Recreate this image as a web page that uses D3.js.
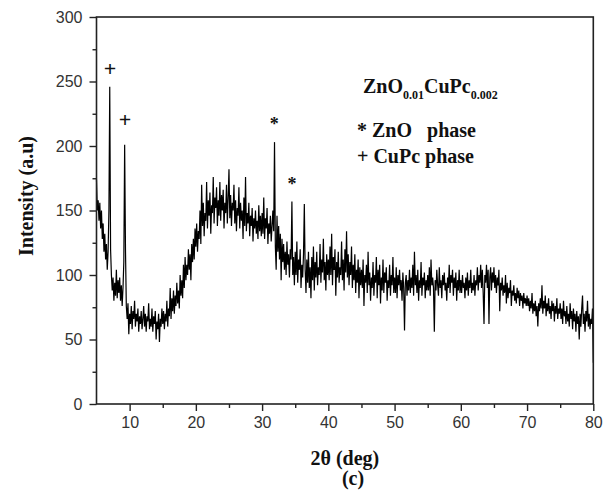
<!DOCTYPE html>
<html>
<head>
<meta charset="utf-8">
<script src="https://cdn.jsdelivr.net/npm/d3@7"></script>
<style>
  body { margin: 0; background: #fff; }
  svg { display: block; }
  .tick text { font-family: "Liberation Sans", Arial, sans-serif; font-size: 16px; fill: #333; }
  .lbl { font-family: "Liberation Serif", "Times New Roman", serif; font-weight: bold; fill: #111; }
</style>
</head>
<body>
<script>
// XRD scan, 2theta from 5 to 80 deg in 0.125 deg steps
var angleStart = 5;
var angleStep = 0.125;

var intensity5to10 = [174,150,158,142,156,136,150,128,140,118,132,112,124,104,118,150,246,120,100,88,
  98,80,94,84,104,82,96,86,98,80,92,76,90,110,201,120,76,66,78,54];
var intensity10to15 = [70,62,76,58,72,66,80,60,70,64,74,56,68,62,72,58,66,76,60,70,
  56,68,64,78,58,66,60,74,56,68,62,72,50,64,58,70,48,66,60,74];
var intensity15to20 = [62,72,58,70,64,80,60,74,68,90,66,82,72,88,70,84,76,94,78,88,
  74,100,84,96,82,108,90,114,96,108,100,120,104,116,96,124,110,128,112,136];
var intensity20to25 = [122,140,118,134,128,150,124,170,138,156,130,148,142,172,136,158,146,164,132,154,
  148,176,140,160,152,168,138,158,146,172,142,162,150,166,136,156,148,170,140,160];
var intensity25to30 = [182,144,162,138,156,150,170,140,158,134,152,146,168,136,156,142,150,128,160,138,
  176,134,148,140,156,130,146,138,152,126,144,136,150,132,142,128,154,134,146,130];
var intensity30to35 = [148,132,160,128,144,136,152,124,140,132,146,126,138,150,134,203,122,104,146,118,
  138,112,132,96,128,110,124,104,118,100,126,108,116,98,120,112,157,100,114,92];
var intensity35to40 = [118,100,126,94,112,104,120,90,108,98,116,155,104,86,112,94,118,90,106,82,
  114,96,122,88,110,98,118,92,106,100,124,94,112,102,128,96,110,88,116,100];
var intensity40to45 = [112,96,122,100,132,92,114,104,120,84,110,98,118,94,106,100,126,96,112,88,
  120,102,134,98,116,92,110,100,122,90,108,96,116,86,104,94,112,82,106,92];
var intensity45to50 = [104,90,112,76,100,94,108,86,118,92,102,80,98,90,110,84,100,94,114,82,
  104,92,108,78,98,88,112,86,102,94,106,80,96,90,108,84,100,92,114,86];
var intensity50to55 = [98,86,106,82,100,92,104,88,96,80,102,90,57,94,100,84,96,88,104,86,
  98,90,108,84,118,92,100,86,104,80,96,90,110,84,98,92,102,82,96,88];
var intensity55to60 = [100,88,106,84,112,92,98,90,56,96,88,104,92,84,106,90,96,82,100,92,
  102,88,94,80,98,90,108,86,100,94,104,84,98,90,102,80,96,88,104,86];
var intensity60to65 = [96,86,100,90,94,82,98,88,102,84,96,90,104,86,94,88,100,84,96,92,
  106,88,100,94,108,90,104,86,62,100,94,108,90,104,62,98,106,88,102,94];
var intensity65to70 = [106,90,100,86,98,92,104,72,94,88,98,84,92,86,100,78,94,82,90,86,
  96,76,88,84,92,80,86,78,90,82,88,76,86,80,84,74,86,78,82,76];
var intensity70to75 = [84,76,82,72,80,74,86,70,78,72,80,68,76,60,78,72,82,74,92,70,
  80,74,84,68,78,72,82,70,76,66,80,72,78,64,76,70,82,66,74,70];
var intensity75to80 = [78,66,74,62,80,68,72,62,76,64,70,60,78,66,72,58,74,64,70,56,
  72,62,68,50,70,60,74,84,62,70,56,72,64,80,60,70,58,66,62,74,32];

var intensity = [].concat(intensity5to10, intensity10to15, intensity15to20, intensity20to25,
  intensity25to30, intensity30to35, intensity35to40, intensity40to45, intensity45to50,
  intensity50to55, intensity55to60, intensity60to65, intensity65to70, intensity70to75, intensity75to80);

var xTicks = [10, 20, 30, 40, 50, 60, 70, 80];
var xMinor = [15, 25, 35, 45, 55, 65, 75];
var yTicks = [0, 50, 100, 150, 200, 250, 300];
var yMinor = [25, 75, 125, 175, 225, 275];

// peak markers: symbol, 2theta, height
var markerSymbols = ["+", "+", "*", "*"];
var markerAngles = [7.05, 9.3, 31.85, 34.5];
var markerLevels = [260, 221, 222, 176];

var w = 611, h = 493;
var plotLeft = 96.5, plotRight = 593.3, plotTop = 17, plotBottom = 404;

var svg = d3.select("body").append("svg").attr("width", w).attr("height", h);

var x = d3.scaleLinear().domain([5, 80]).range([plotLeft, plotRight]);
var y = d3.scaleLinear().domain([0, 300]).range([plotBottom, plotTop]);

var points = intensity.map(function (v, i) { return [angleStart + i * angleStep, v]; });

var line = d3.line()
  .x(function (d) { return x(d[0]); })
  .y(function (d) { return y(d[1]); });

svg.append("path")
  .datum(points)
  .attr("d", line)
  .attr("fill", "none")
  .attr("stroke", "#000")
  .attr("stroke-width", 1.2)
  .attr("stroke-linejoin", "miter");

// minor ticks
svg.append("g")
  .attr("transform", "translate(0," + plotBottom + ")")
  .call(d3.axisBottom(x).tickValues(xMinor).tickSize(4).tickSizeOuter(0).tickFormat(""))
  .call(function (g) { g.select(".domain").remove(); });
svg.append("g")
  .attr("transform", "translate(" + plotLeft + ",0)")
  .call(d3.axisLeft(y).tickValues(yMinor).tickSize(4).tickSizeOuter(0).tickFormat(""))
  .call(function (g) { g.select(".domain").remove(); });

// major ticks with labels
var xAxis = svg.append("g")
  .attr("transform", "translate(0," + plotBottom + ")")
  .call(d3.axisBottom(x).tickValues(xTicks).tickSize(7).tickSizeOuter(0).tickPadding(6));
xAxis.select(".domain").remove();

var yAxis = svg.append("g")
  .attr("transform", "translate(" + plotLeft + ",0)")
  .call(d3.axisLeft(y).tickValues(yTicks).tickSize(7).tickSizeOuter(0).tickPadding(7));
yAxis.select(".domain").remove();

svg.selectAll(".tick line").attr("stroke", "#222").attr("stroke-width", 1.4);

// frame
svg.append("rect")
  .attr("x", plotLeft).attr("y", plotTop)
  .attr("width", plotRight - plotLeft).attr("height", plotBottom - plotTop)
  .attr("fill", "none")
  .attr("stroke", "#222")
  .attr("stroke-width", 1.6);

// peak markers
svg.selectAll(".marker").data(markerSymbols).enter().append("text")
  .attr("class", "lbl marker")
  .attr("x", function (d, i) { return x(markerAngles[i]); })
  .attr("y", function (d, i) { return y(markerLevels[i]); })
  .attr("dy", function (d) { return d == "+" ? "0.35em" : "0.7em"; })
  .attr("text-anchor", "middle")
  .style("font-size", function (d) { return d == "+" ? "22px" : "18px"; })
  .text(function (d) { return d; });

// sample label
var title = svg.append("text").attr("class", "lbl").attr("x", 363).attr("y", 93).style("font-size", "20px");
title.append("tspan").text("ZnO");
title.append("tspan").attr("dy", 6).style("font-size", "12px").text("0.01");
title.append("tspan").attr("dy", -6).text("CuPc");
title.append("tspan").attr("dy", 6).style("font-size", "12px").text("0.002");

svg.append("text").attr("class", "lbl").attr("x", 357).attr("y", 137)
  .style("font-size", "20px").attr("xml:space", "preserve").text("* ZnO   phase");
svg.append("text").attr("class", "lbl").attr("x", 357).attr("y", 163)
  .style("font-size", "20px").text("+ CuPc phase");

// axis titles
svg.append("text").attr("class", "lbl")
  .attr("x", (plotLeft + plotRight) / 2).attr("y", 465)
  .attr("text-anchor", "middle").style("font-size", "20px").text("2θ (deg)");
svg.append("text").attr("class", "lbl")
  .attr("x", 353).attr("y", 485)
  .attr("text-anchor", "middle").style("font-size", "20px").text("(c)");
svg.append("text").attr("class", "lbl")
  .attr("transform", "translate(33,196) rotate(-90)")
  .attr("text-anchor", "middle").style("font-size", "20px").text("Intensity (a.u)");
</script>
</body>
</html>
